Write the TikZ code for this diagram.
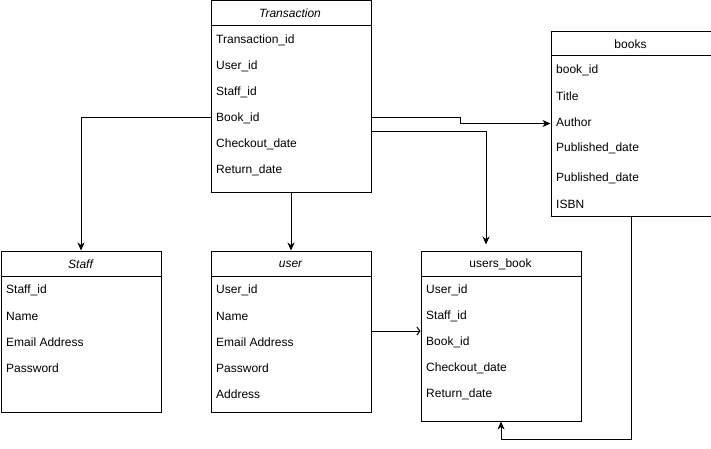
\documentclass[tikz,border=0pt]{standalone}
\usepackage{fontspec}
\setmainfont{Liberation Sans}
\usetikzlibrary{arrows.meta,calc}
\tikzset{
  tbl/.style={draw=black, line width=1pt, fill=white, anchor=north west, inner sep=0pt},
  hdr/.style={font=\fontsize{12}{14}\selectfont, inner sep=0pt},
  fld/.style={font=\fontsize{12}{14}\selectfont, anchor=west, inner sep=0pt},
  arr/.style={draw=black, line width=1pt, -{Stealth[length=8pt,width=7pt,inset=2.5pt]}},
  openarr/.style={draw=black, line width=1pt, -{Straight Barb[length=3pt,width=8pt]}},
}
\begin{document}
\begin{tikzpicture}[x=1pt,y=-1pt]
\useasboundingbox (0,0) rectangle (711,449);
\fill[white] (0,0) rectangle (711,449);

% Transaction
\node[tbl, minimum width=160pt, minimum height=191.5pt] (T) at (210.5,0.5) {};
\draw[line width=1pt] ([yshift=-25.5pt]T.north west) -- ([yshift=-25.5pt]T.north east);
\node[hdr] (Th) at (290,13) {\itshape Transaction};
\node[fld] (T1) at (216,40) {Transaction\_id};
\node[fld] (T2) at (216,66) {User\_id};
\node[fld] (T3) at (216,92) {Staff\_id};
\node[fld] (T4) at (216,118) {Book\_id};
\node[fld] (T5) at (216,144) {Checkout\_date};
\node[fld] (T6) at (216,170) {Return\_date};

% books
\node[tbl, minimum width=160pt, minimum height=185pt] (B) at (550.5,31) {};
\draw[line width=1pt] ([yshift=-25pt]B.north west) -- ([yshift=-25pt]B.north east);
\node[hdr] (Bh) at (630.5,44) {books};
\node[fld] (B1) at (556,70) {book\_id};
\node[fld] (B2) at (556,96) {Title};
\node[fld] (B3) at (556,122) {Author};
\node[fld] (B4) at (556,148) {Published\_date};
\node[fld] (B5) at (556,178) {Published\_date};
\node[fld] (B6) at (556,204) {ISBN};

% Staff
\node[tbl, minimum width=160pt, minimum height=161pt] (S) at (0.5,250.5) {};
\draw[line width=1pt] ([yshift=-25.5pt]S.north west) -- ([yshift=-25.5pt]S.north east);
\node[hdr] (Sh) at (80.5,264) {\itshape Staff};
\node[fld] (S1) at (6,290) {Staff\_id};
\node[fld] (S2) at (6,316) {Name};
\node[fld] (S3) at (6,342) {Email Address};
\node[fld] (S4) at (6,368) {Password};

% user
\node[tbl, minimum width=160pt, minimum height=161pt] (U) at (210.5,250.5) {};
\draw[line width=1pt] ([yshift=-25.5pt]U.north west) -- ([yshift=-25.5pt]U.north east);
\node[hdr] (Uh) at (290.5,264) {\itshape user};
\node[fld] (U1) at (216,290) {User\_id};
\node[fld] (U2) at (216,316) {Name};
\node[fld] (U3) at (216,342) {Email Address};
\node[fld] (U4) at (216,368) {Password};
\node[fld] (U5) at (216,394) {Address};

% users_book
\node[tbl, minimum width=160pt, minimum height=170pt] (UB) at (420.5,250.5) {};
\draw[line width=1pt] ([yshift=-25.5pt]UB.north west) -- ([yshift=-25.5pt]UB.north east);
\node[hdr] (UBh) at (500.5,264) {users\_book};
\node[fld] (UB1) at (426,290) {User\_id};
\node[fld] (UB2) at (426,316) {Staff\_id};
\node[fld] (UB3) at (426,342) {Book\_id};
\node[fld] (UB4) at (426,368) {Checkout\_date};
\node[fld] (UB5) at (426,394) {Return\_date};

% connectors
\coordinate (bin) at (550.5,123.5);
\draw[arr] (T.west |- T4.west) -| (S.north);
\draw[arr] (T.south) -- (U.north);
\draw[arr] (T.east |- T4.west) -- (460,118) -- (460,123.5) -- (bin);
\draw[arr, shorten >=6pt] ($(T.east)+(0,34.5)$) -| ([xshift=-15pt]UB.north);
\draw[openarr] ($(U.east)+(0,-0.5)$) -- ($(UB.west)+(0,-5)$);
\draw[arr] (B.south) -- ++(0,222) -| (UB.south);
\end{tikzpicture}
\end{document}
